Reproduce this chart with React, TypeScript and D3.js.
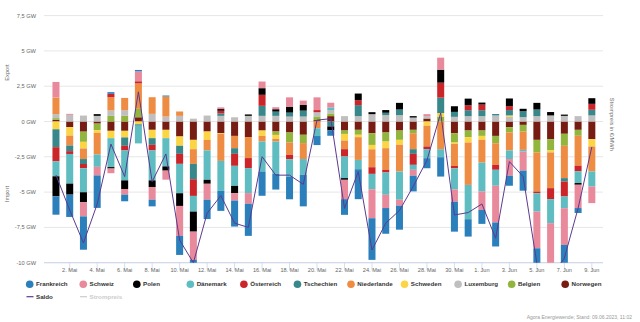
import React from "react";
import * as d3 from "d3";

const days = d3.range(1, 41).map((i) => (i <= 31 ? `${i}. Mai` : `${i - 31}. Jun`));

const frankreich = [-1.3,-1.58,-2.36,-2.3,0.12,-0.47,0.1,-0.47,0.07,-1.35,-0.6,-1.37,-1.42,-1.84,-2.27,-1.72,-1.11,-1.61,-2.24,-0.64,-0.38,-1.11,-2.12,-2.95,-1.82,-1.7,-1.11,-0.71,-1.37,-2.12,-1.23,-0.99,-1.7,-0.71,-1.42,-2.5,-0.3,-1.6,-0.35,0];
const schweiz = [1.1,0.07,-1.0,-0.61,-0.33,-0.4,0.7,-0.9,-0.64,-2.12,-2.0,-1.13,0.12,-0.52,-0.76,0.47,0.14,0.66,0.31,0.9,0.33,-1.37,0,-2.05,-0.94,-0.42,-0.42,0.14,0.85,-0.87,0,-1.3,-2.6,-1.18,-1.35,-2.6,-3.6,-2.6,-1.65,-1.18];
const polen = [-1.42,-0.78,-0.71,0.12,-0.1,-0.61,0,-0.47,-0.3,-0.9,-1.42,-0.28,0.12,-0.52,0.1,0.47,0.17,0.42,0.4,0,-0.28,-0.12,0.47,0.14,0.19,0.47,0.1,0,0.92,0.4,0.47,0.14,0,0.54,0.17,0.47,0.24,0.09,-0.12,0.4];
const daenemark = [-1.06,-2.1,-1.7,-0.87,-2.05,-2.12,-1.25,-2.12,-2.0,-2.08,-1.11,-2.08,-2.12,-1.42,-1.77,-2.12,-2.29,-1.23,-1.11,-0.55,0.19,-1.53,-0.66,-1.09,-1.58,-2.0,-0.35,-0.64,-0.57,-1.49,-2.43,-2.05,-1.13,-0.61,-0.12,-1.3,-1.7,-0.83,-0.83,-1.06];
const oesterreich = [-1.0,-0.2,-0.3,0,0.24,-0.33,0.15,-0.4,0,-0.71,-1.18,0,0.19,-0.85,-0.71,0.78,0,-0.31,0,0.15,0,-0.52,0.35,-0.47,-0.19,0,-0.78,-0.19,1.06,-0.17,0.35,0.4,-0.35,0.28,0,-0.12,-0.78,-1.06,-0.4,0.42];
const tschechien = [-1.27,-0.4,-0.35,0,0,-0.59,-0.1,-0.47,0,-0.57,-1.09,0,0.17,-0.4,0,0.71,0.3,0.28,0.42,0,-0.35,0,0.78,0,0.17,0.4,-0.33,0,1.09,0.35,0.42,0.42,0.1,0.38,0.42,0.47,0,-0.24,0,0.4];
const niederlande = [1.18,-0.7,-0.75,-1.53,0.94,0.87,1.8,1.18,1.42,0.31,-1.04,-0.75,-1.91,-0.87,-1.49,-0.4,-0.19,-0.87,-1.13,-0.48,0,-0.61,-1.61,-1.27,-1.53,-1.89,-1.13,-1.47,-1.96,-1.56,-3.0,-1.61,-1.53,-1.27,-1.3,-2.76,-2.53,-2.29,-2.12,-1.77];
const schweden = [-0.55,-0.6,-0.47,-0.19,-0.52,-0.47,-0.2,-0.59,-0.59,-0.66,-0.66,-0.59,-0.05,0,0,-0.38,-0.28,0,0,0,0,-0.47,-0.17,-0.31,-0.47,-0.35,0,-0.3,0.25,-0.1,-0.38,-0.28,0,0.1,0,0,-0.14,0,0,-0.52];
const luxemburg = [0.28,0.47,0.42,0.4,0.38,0.4,0,0.54,0.35,0.4,0.2,0.42,0.4,0.3,0.4,0.4,0.4,0.35,0.35,0.3,0.24,0.38,0.38,0.52,0.45,0.45,0.28,0.17,0,0.33,0.38,0.38,0.43,0.33,0.31,0.38,0.43,0.4,0.38,0.43];
const belgien = [0.12,0,-0.72,-0.47,0.4,0.4,0.6,0,0,0,0,0,0,0,0,0,-0.24,-0.71,-0.59,0.26,0.19,-0.24,-0.35,-0.83,-0.64,-0.66,-0.24,0,0.35,-0.66,-0.47,-0.38,-0.52,-0.38,-0.47,-0.9,-0.8,-0.85,-0.42,0];
const norwegen = [0.12,-0.4,-0.72,-0.15,-0.66,-0.66,0.3,-0.59,-0.59,-1.06,-1.3,-0.71,-0.83,-1.02,-1.1,-0.64,-0.71,-0.78,-0.94,0.1,0.38,-0.64,-0.59,-0.83,-0.78,-0.64,-0.59,0.21,0,-0.83,-0.64,-0.64,-1.02,-0.4,-0.24,-1.3,-1.25,-0.87,-0.59,-1.25];
const saldo = [-3.79,-6.27,-8.6,-5.85,-1.6,-3.9,2.1,-4.26,-2.3,-8.4,-10.0,-6.5,-5.25,-7.2,-7.5,-2.49,-3.8,-3.8,-4.45,0.1,0.2,-6.15,-3.55,-9.1,-7.2,-6.3,-4.6,-2.75,0.6,-6.62,-6.45,-5.84,-8.27,-2.84,-3.9,-10.05,-11.0,-9.67,-6.15,-1.8];

const countries = ["Frankreich","Schweiz","Polen","Dänemark","Österreich","Tschechien","Niederlande","Schweden","Luxemburg","Belgien","Norwegen"];
const colors = ["#2b7fbb","#e8899c","#000000","#5fbdc1","#cc2529","#38878a","#ef8c44","#fbd544","#bfbfbf","#92b53d","#761c12"];
const seriesValues = [frankreich,schweiz,polen,daenemark,oesterreich,tschechien,niederlande,schweden,luxemburg,belgien,norwegen];
const yTicks = [-10,-7.5,-5,-2.5,0,2.5,5,7.5];
const xTickDays = d3.range(2, 41, 2);

const W = 640, H = 322;
const plotL = 44, plotR = 603, plotT = 5, plotB = 262.7;

export default function App() {
  const x = d3.scaleBand<number>().domain(d3.range(1, 41)).range([49.1, 598.7]).paddingInner(0.49).paddingOuter(0.245);
  const y = d3.scaleLinear().domain([-10, 7.5]).range([plotB, 15.6]);

  const rows = days.map((d, i) => {
    const r: any = { day: i + 1 };
    countries.forEach((c, k) => (r[c] = seriesValues[k][i]));
    return r;
  });
  const stackKeys = countries.slice().reverse();
  const stacked = d3.stack<any>().keys(stackKeys).offset(d3.stackOffsetDiverging)(rows);

  const cx = (day: number) => (x(day) as number) + x.bandwidth() / 2;
  const line = d3.line<number>().x((_, i) => cx(i + 1)).y((v) => y(v));
  const fmt = (v: number) => `${String(v).replace(".", ",")} GW`;
  const font = "'Liberation Sans', Arial, sans-serif";

  return (
    <svg width={W} height={H} style={{ position: "absolute", left: 0, top: 0, fontFamily: font }}>
      <rect width={W} height={H} fill="#fff" />
      <defs>
        <clipPath id="plot">
          <rect x={plotL} y={plotT} width={plotR - plotL} height={plotB - plotT} />
        </clipPath>
      </defs>
      {yTicks.map((t) => (
        <g key={t}>
          <line x1={plotL} x2={plotR} y1={y(t)} y2={y(t)} stroke="#e6e6e6" strokeWidth={1} />
          <text x={36} y={y(t) + 2} textAnchor="end" fontSize={5.7} fill="#666">{fmt(t)}</text>
        </g>
      ))}
      <line x1={plotL} x2={plotR} y1={plotB} y2={plotB} stroke="#ccd6eb" strokeWidth={1} />
      {xTickDays.map((d) => (
        <g key={d}>
          <line x1={cx(d)} x2={cx(d)} y1={plotB} y2={plotB + 8} stroke="#ccd6eb" strokeWidth={0.8} />
          <text x={cx(d)} y={271.8} textAnchor="middle" fontSize={5.6} fill="#666">{days[d - 1]}</text>
        </g>
      ))}
      <g clipPath="url(#plot)">
        {stacked.map((s) => {
          const k = countries.indexOf(s.key);
          return (
            <g key={s.key} fill={colors[k]}>
              {s.map((seg, i) => {
                const y0 = y(seg[0]), y1 = y(seg[1]);
                const h = Math.abs(y0 - y1);
                if (h < 0.01) return null;
                return <rect key={i} x={x(i + 1)} width={x.bandwidth()} y={Math.min(y0, y1)} height={h} />;
              })}
            </g>
          );
        })}
        <path d={line(saldo) || ""} fill="none" stroke="#5c3a8f" strokeWidth={1} />
      </g>
      <text transform={`translate(8.5,${(y(0) + y(7.5)) / 2 + 4}) rotate(-90)`} textAnchor="middle" fontSize={5.7} fill="#666">Export</text>
      <text transform={`translate(8.5,${(y(0) + y(-10)) / 2 + 2}) rotate(-90)`} textAnchor="middle" fontSize={5.7} fill="#666">Import</text>
      <text transform={`translate(610,${y(-0.2)}) rotate(90)`} textAnchor="middle" fontSize={5.7} fill="#666">Strompreis in €/MWh</text>
      {countries.map((c, k) => (
        <g key={c} transform={`translate(${29.7 + 53.55 * k},284.3)`}>
          <circle r={3.8} fill={colors[k]} />
          <text x={6.3} y={2.1} fontSize={6.2} fontWeight="bold" fill="#333">{c}</text>
        </g>
      ))}
      <g transform="translate(26.5,296.7)">
        <line x1={0} x2={7} y1={0} y2={0} stroke="#5c3a8f" strokeWidth={1.2} />
        <text x={9.5} y={2.1} fontSize={6.2} fontWeight="bold" fill="#333">Saldo</text>
      </g>
      <g transform="translate(80,296.7)">
        <line x1={0} x2={7} y1={0} y2={0} stroke="#cccccc" strokeWidth={1.2} />
        <text x={9.5} y={2.1} fontSize={6.2} fontWeight="bold" fill="#cccccc">Strompreis</text>
      </g>
      <text x={632} y={319} textAnchor="end" fontSize={5} fill="#999">Agora Energiewende; Stand: 09.06.2023, 11:02</text>
    </svg>
  );
}
